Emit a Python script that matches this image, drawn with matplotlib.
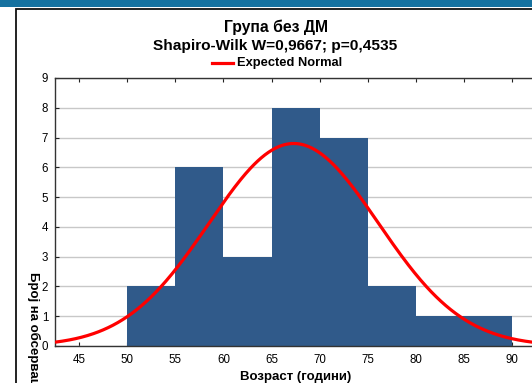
import numpy as np
import matplotlib
matplotlib.use("Agg")
import matplotlib.pyplot as plt
from matplotlib.patches import Rectangle

plt.rcParams['font.family'] = ['Liberation Sans', 'DejaVu Sans']

# Data
bin_edges = [50, 55, 60, 65, 70, 75, 80, 85, 90]
counts = [2, 6, 3, 8, 7, 2, 1, 1]
x_ticks = [45, 50, 55, 60, 65, 70, 75, 80, 85, 90]
y_ticks = [0, 1, 2, 3, 4, 5, 6, 7, 8, 9]
n_obs = 30
fit_mean = 67.3
fit_sd = 8.8
bin_width = 5

title1 = "Група без ДМ"
title2 = "Shapiro-Wilk W=0,9667; p=0,4535"
legend_label = "Expected Normal"
xlabel = "Возраст (години)"
ylabel = "Број на обсервации"

W, H = 532, 383
fig = plt.figure(figsize=(W / 100, H / 100), dpi=100)

def fx(px):
    return px / W

def fy(py):
    return 1 - py / H

# top blue band
fig.patches.append(Rectangle((0, fy(7)), 1, 7 / H, transform=fig.transFigure,
                             facecolor="#1672a0", edgecolor="none", zorder=0))
# frame
fig.patches.append(Rectangle((fx(15.5), fy(420)), (600 - 15.5) / W, (420 - 9.5) / H,
                             transform=fig.transFigure, facecolor="none",
                             edgecolor="#111111", linewidth=1.3, zorder=1))

ax_left, ax_right, ax_top, ax_bottom = 55, 536.3, 78, 346
ax = fig.add_axes([fx(ax_left), fy(ax_bottom), (ax_right - ax_left) / W, (ax_bottom - ax_top) / H])

lefts = bin_edges[:-1]
ax.bar(lefts, counts, width=np.diff(bin_edges), align='edge', color="#305a8a",
       edgecolor="none", zorder=2)

xs = np.linspace(42.5, 92.5, 400)
pdf = n_obs * bin_width / (fit_sd * np.sqrt(2 * np.pi)) * np.exp(-0.5 * ((xs - fit_mean) / fit_sd) ** 2)
ax.plot(xs, pdf, color="#ff0000", linewidth=2.3, zorder=3, solid_capstyle='butt')

ax.set_xlim(42.5, 92.5)
ax.set_ylim(0, 9)
ax.set_xticks(x_ticks)
ax.set_yticks(y_ticks)
ax.yaxis.grid(True, color="#c8c8c8", linewidth=1.0, zorder=1)
ax.set_axisbelow(True)
ax.tick_params(axis='x', direction='in', length=3, top=True, labelsize=8.3, pad=6, color="#222222")
ax.tick_params(axis='y', direction='in', length=3, labelsize=8.3, pad=5, color="#222222")
for s in ax.spines.values():
    s.set_color("#333333")
    s.set_linewidth(1.0)

fig.text(fx(275.5), fy(27), title1, ha='center', va='center', fontsize=11.3, fontweight='bold')
fig.text(fx(275), fy(46), title2, ha='center', va='center', fontsize=11.1, fontweight='bold')
fig.lines.append(plt.Line2D([fx(212), fx(233)], [fy(63), fy(63)], transform=fig.transFigure,
                            color="#ff0000", linewidth=2.3))
fig.text(fx(237), fy(63), legend_label, ha='left', va='center', fontsize=9.3, fontweight='bold')
fig.text(fx(296), fy(377), xlabel, ha='center', va='center', fontsize=9.5, fontweight='bold')
fig.text(fx(34), fy(272), ylabel, ha='center', va='top', rotation=270, fontsize=9.5, fontweight='bold')

fig.savefig("out.png", dpi=100)
